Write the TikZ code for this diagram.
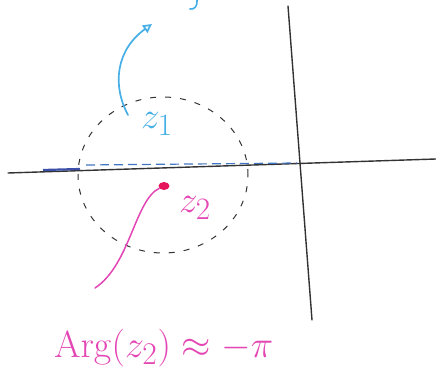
\documentclass[tikz,border=0pt]{standalone}
\usetikzlibrary{arrows.meta,shapes.geometric}
\definecolor{skyb}{RGB}{70,175,230}
\definecolor{dblue}{RGB}{60,80,170}
\definecolor{magp}{RGB}{228,70,180}
\definecolor{redd}{RGB}{230,20,90}
\tikzset{
  axis/.style={line width=1.4pt, draw=black!80, line cap=round},
  circ/.style={draw=black!80, line width=1pt, dash pattern=on 6pt off 9pt},
  bdash/.style={draw=dblue!60!skyb, line width=1.2pt, dash pattern=on 9pt off 5pt},
  barrow/.style={draw=skyb, line width=1.7pt, line cap=round, -{Triangle[open, length=9pt, width=9pt]}},
  mcurve/.style={draw=magp, line width=1.5pt, line cap=round},
  blab/.style={text=skyb, font=\Huge, scale=1.5, inner sep=0pt},
  mlab/.style={text=magp, font=\Huge, scale=1.5, inner sep=0pt},
  biglab/.style={text=magp, font=\Huge, scale=1.52, inner sep=0pt}
}
\begin{document}
\begin{tikzpicture}[x=1pt, y=-1pt]
\useasboundingbox (0,0) rectangle (436,379);
% axes
\coordinate (xl) at (8,173);
\coordinate (xr) at (436,159);
\coordinate (yt) at (288,6);
\coordinate (yb) at (312,320);
\coordinate (o) at (297,163);
\draw[axis] (xl) -- (xr);
\draw[axis] (yt) -- (yb);
% dashed circle
\node[circ, ellipse, minimum width=170pt, minimum height=156pt, inner sep=0pt] (c) at (163,175) {};
% blue dashed segment
\coordinate (bl) at (43,170);
\draw[draw=dblue, line width=2.2pt] (bl) -- (80,169);
\draw[bdash] (86,165) -- (o);
% z1 label
\node[blab] (z1) at (157,124) {$z_1$};
% blue arrow
\coordinate (a0) at (128,115);
\coordinate (a1) at (152,24);
\draw[barrow] (a0) .. controls (112,85) and (116,50) .. (a1);
% partial letter at top
\draw[draw=skyb, line width=1.6pt, line cap=round] (197,0) .. controls (198,6) and (194,10) .. (190,9);
% red dot
\node[fill=redd, ellipse, minimum width=11pt, minimum height=8pt, inner sep=0pt] (p) at (164,186) {};
% z2 label
\node[mlab] (z2) at (195,208) {$z_2$};
% magenta curve
\coordinate (m1) at (95,288);
\draw[mcurve] (p) .. controls (135,200) and (130,265) .. (m1);
% Arg label
\node[biglab, anchor=base west] (arg) at (54,357) {$\mathrm{Arg}(z_2)\approx-\pi$};
\end{tikzpicture}
\end{document}
